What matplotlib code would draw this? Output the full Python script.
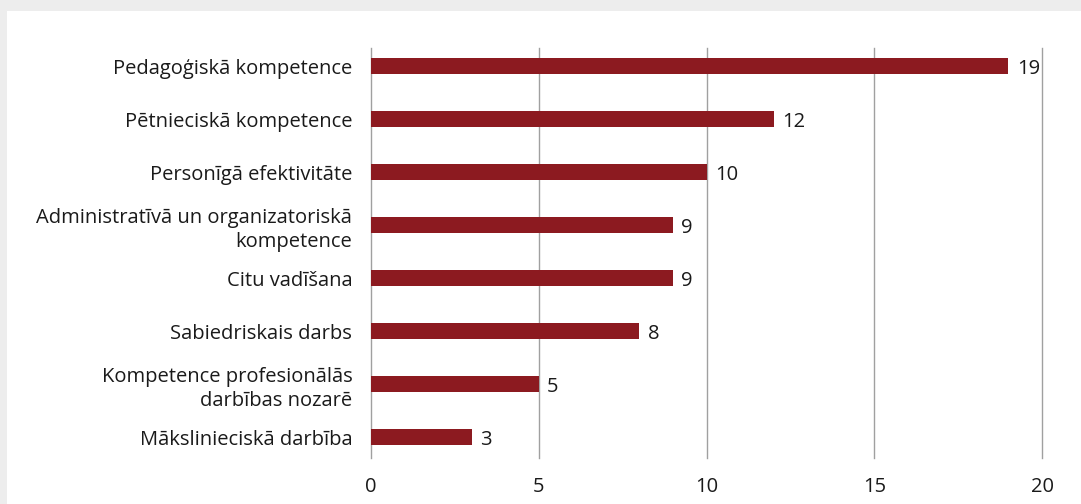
import matplotlib
matplotlib.use("Agg")
import matplotlib.pyplot as plt
from matplotlib.patches import Rectangle

plt.rcParams['font.family'] = ['Open Sans', 'DejaVu Sans']

categories = [
    "Pedagoģiskā kompetence",
    "Pētnieciskā kompetence",
    "Personīgā efektivitāte",
    "Administratīvā un organizatoriskā\nkompetence",
    "Citu vadīšana",
    "Sabiedriskais darbs",
    "Kompetence profesionālās\ndarbības nozarē",
    "Mākslinieciskā darbība",
]
values = [19, 12, 10, 9, 9, 8, 5, 3]
x_ticks = [0, 5, 10, 15, 20]

bar_color = "#8c1a20"
grid_color = "#a0a0a0"
text_color = "#1a1a1a"
fs = 14.5

W, H = 1081, 504
fig = plt.figure(figsize=(W / 100, H / 100), dpi=100, facecolor="#ededed")

# white card behind the chart
card = Rectangle((7 / W, 0), 1 - 7 / W, 1 - 11 / H,
                 transform=fig.transFigure, facecolor="white",
                 edgecolor="none", zorder=-10)
fig.add_artist(card)

ax = fig.add_axes([371 / W, 46 / H, (1042 - 371) / W, (458 - 48) / H])
ax.set_facecolor("none")

pos = list(range(len(categories)))
bars = ax.barh(pos, values, height=0.32, color=bar_color, zorder=3)

ax.set_xlim(0, 20)
ax.set_ylim(7.396, -0.34)
ax.set_xticks(x_ticks)
ax.set_yticks(pos)
ax.set_yticklabels(categories, fontsize=fs, color=text_color, linespacing=1.3)
ax.tick_params(axis="both", length=0, labelsize=fs, colors=text_color)
ax.tick_params(axis="y", pad=13.5)
ax.tick_params(axis="x", pad=14)

ax.xaxis.grid(True, color=grid_color, linewidth=1)
ax.yaxis.grid(False)
ax.set_axisbelow(True)
for gl in ax.get_xgridlines():
    gl.set_clip_on(False)
for s in ax.spines.values():
    s.set_visible(False)

for rect, v in zip(bars, values):
    ax.annotate(str(v), (v, rect.get_y() + rect.get_height() / 2),
                xytext=(6, -2), textcoords="offset points",
                ha="left", va="center", fontsize=fs, color=text_color)

fig.savefig("out.png", dpi=100, facecolor=fig.get_facecolor())
